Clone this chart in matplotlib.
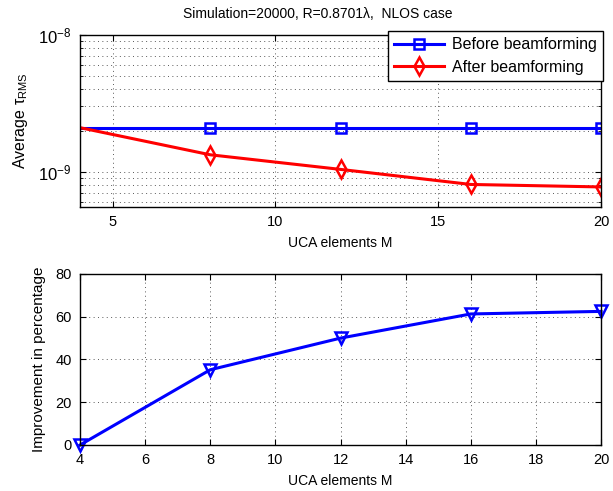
import matplotlib
matplotlib.use("Agg")
import matplotlib.pyplot as plt
import matplotlib.ticker as ticker
import numpy as np

plt.rcParams["font.family"] = ["Liberation Sans", "DejaVu Sans"]
plt.rcParams["font.size"] = 10
plt.rcParams["mathtext.fontset"] = "custom"
plt.rcParams["mathtext.rm"] = "Liberation Sans"
plt.rcParams["mathtext.it"] = "Liberation Sans:italic"
plt.rcParams["mathtext.default"] = "regular"

# data
M = [4, 8, 12, 16, 20]
tau_before = [2.1e-9, 2.1e-9, 2.1e-9, 2.1e-9, 2.1e-9]
tau_after = [2.1e-9, 1.33e-9, 1.04e-9, 8.07e-10, 7.74e-10]
improvement = [0, 35.2, 50.0, 61.3, 62.5]

title = "Simulation=20000, R=0.8701\u03bb,  NLOS case"
grid_style = dict(color="0.35", linestyle=(0, (1, 3.5)), linewidth=0.7)

fig = plt.figure(figsize=(6.13, 4.91), dpi=100)
ax1 = fig.add_axes([0.1305, 0.5784, 0.850, 0.3503])
ax2 = fig.add_axes([0.1305, 0.0937, 0.850, 0.3483])

# top plot (no markers drawn at M=4 in the original)
ax1.semilogy(M, tau_before, color="blue", linewidth=2.2, marker="s",
             markersize=7, markerfacecolor="none", markeredgewidth=1.8,
             markevery=[1, 2, 3, 4], label="Before beamforming")
ax1.semilogy(M, tau_after, color="red", linewidth=2.2, marker="d",
             markersize=9, markerfacecolor="none", markeredgewidth=1.8,
             markevery=[1, 2, 3, 4], label="After beamforming")
ax1.set_xlim(4, 20)
ax1.set_ylim(5.52e-10, 1e-8)
ax1.set_xticks([5, 10, 15, 20])
ax1.yaxis.set_major_locator(ticker.LogLocator(base=10, numticks=10))
ax1.yaxis.set_minor_locator(ticker.LogLocator(base=10, subs=np.arange(2, 10), numticks=10))
ax1.yaxis.set_minor_formatter(ticker.NullFormatter())
ax1.grid(True, which="major", **grid_style)
ax1.grid(True, which="minor", axis="y", **grid_style)
ax1.set_xlabel("UCA elements M", labelpad=5)
ax1.set_ylabel("Average $\\mathrm{\\tau}_{RMS}$", fontsize=11.5, labelpad=6)
ax1.set_title(title, fontsize=10, pad=12, x=0.457)
leg = ax1.legend(loc="upper right", bbox_to_anchor=(1.004, 1.023),
                 borderaxespad=0, fancybox=False, framealpha=1,
                 edgecolor="black", handlelength=3.1, borderpad=0.4,
                 labelspacing=0.45, handletextpad=0.5, fontsize=11.5)
leg.get_frame().set_linewidth(1.0)

# bottom plot
ax2.plot(M, improvement, color="blue", linewidth=2.2, marker="v",
         markersize=8, markerfacecolor="none", markeredgewidth=1.8,
         clip_on=False)
ax2.set_xlim(4, 20)
ax2.set_ylim(0, 80)
ax2.set_xticks(range(4, 21, 2))
ax2.set_yticks(range(0, 81, 20))
ax2.grid(True, **grid_style)
ax2.set_xlabel("UCA elements M", labelpad=5)
ax2.set_ylabel("Improvement in percentage", fontsize=11, labelpad=7)

for ax in (ax1, ax2):
    for s in ax.spines.values():
        s.set_linewidth(1.0)
    ax.tick_params(which="both", direction="in", top=True, right=True,
                   labelsize=10.5)
    ax.tick_params(axis="x", pad=6)
    ax.tick_params(axis="y", pad=6)
    ax.tick_params(which="major", length=4)
    ax.tick_params(which="minor", length=2)
    ax.set_axisbelow(True)
ax1.tick_params(axis="y", labelsize=12)

fig.savefig("out.png", dpi=100)
